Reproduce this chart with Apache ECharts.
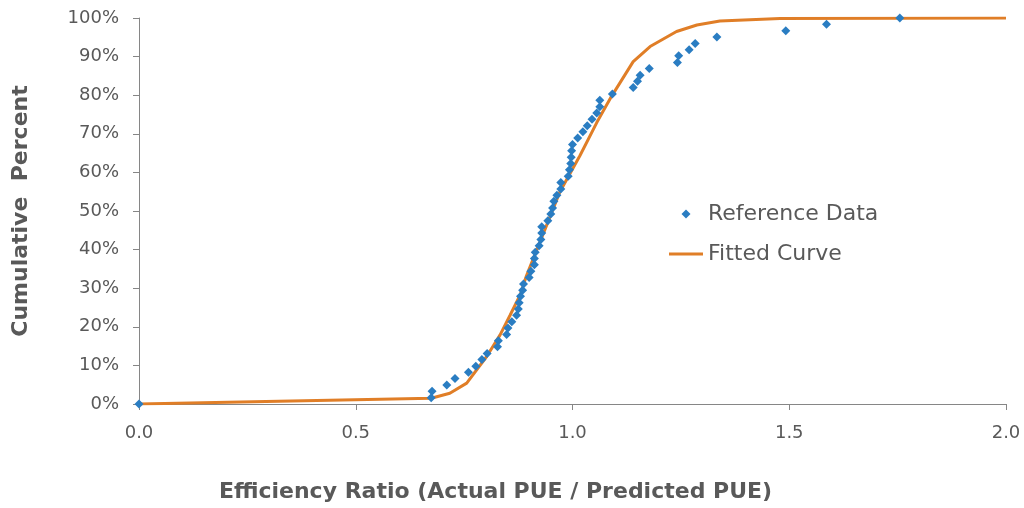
<!DOCTYPE html>
<html>
<head>
<meta charset="utf-8">
<script src="https://cdn.jsdelivr.net/npm/echarts@6/dist/echarts.min.js"></script>
<style>html,body{margin:0;padding:0;background:#fff;}#c{width:1024px;height:508px;}</style>
</head>
<body>
<div id="c"></div>
<script>
// Reference data: efficiency ratio (x) and cumulative percent (y)
var refX = [0.000, 0.674, 0.676, 0.710, 0.729, 0.760, 0.777, 0.791, 0.803, 0.827, 0.829,
  0.848, 0.851, 0.860, 0.871, 0.875, 0.877, 0.880, 0.885, 0.887, 0.900,
  0.904, 0.912, 0.912, 0.914, 0.923, 0.927, 0.929, 0.929, 0.943, 0.950,
  0.954, 0.957, 0.964, 0.973, 0.973, 0.990, 0.993, 0.996, 0.997, 0.998,
  1.000, 1.012, 1.024, 1.034, 1.045, 1.056, 1.063, 1.063, 1.092, 1.140,
  1.150, 1.156, 1.177, 1.242, 1.245, 1.269, 1.283, 1.333, 1.492, 1.586, 1.755];
var refY = [0.0, 1.6, 3.3, 4.9, 6.6, 8.2, 9.8, 11.5, 13.1, 14.8, 16.4,
  18.0, 19.7, 21.3, 23.0, 24.6, 26.2, 27.9, 29.5, 31.1, 32.8,
  34.4, 36.1, 37.7, 39.3, 41.0, 42.6, 44.3, 45.9, 47.5, 49.2,
  50.8, 52.5, 54.1, 55.7, 57.4, 59.0, 60.7, 62.3, 63.9, 65.6,
  67.2, 68.9, 70.5, 72.1, 73.8, 75.4, 77.0, 78.7, 80.3, 82.0,
  83.6, 85.2, 86.9, 88.5, 90.2, 91.8, 93.4, 95.1, 96.7, 98.4, 100.0];
// Fitted curve
var fitX = [0, 0.674, 0.717, 0.756, 0.802, 0.833, 0.856, 0.879, 0.894, 0.940, 0.971,
  1.017, 1.056, 1.090, 1.140, 1.179, 1.240, 1.287, 1.340, 1.479, 2.0];
var fitY = [0, 1.5, 2.8, 5.4, 12.3, 17.9, 23.0, 28.2, 33.3, 46.2, 55.0,
  64.3, 72.9, 79.7, 88.7, 92.6, 96.5, 98.2, 99.2, 99.9, 100];
var xTicks = ['0.0', '0.5', '1.0', '1.5', '2.0'];

function zip(a, b) { var r = []; for (var i = 0; i < a.length; i++) r.push([a[i], b[i]]); return r; }

var FONT = 'DejaVu Sans, Verdana, sans-serif';
var textColor = '#595959';
var axisColor = '#868686';
var chart = echarts.init(document.getElementById('c'));
chart.setOption({
  animation: false,
  backgroundColor: '#ffffff',
  textStyle: { fontFamily: FONT },
  grid: { left: 139, right: 18, top: 18, bottom: 102, containLabel: false },
  legend: {
    orient: 'vertical', left: 664, top: 198,
    itemWidth: 34, itemHeight: 9, itemGap: 18, symbolKeepAspect: true,
    textStyle: { fontSize: 22, lineHeight: 22, color: textColor, fontFamily: FONT },
    data: [
      { name: 'Reference Data', icon: 'path://M0,-1L1,0L0,1L-1,0Z' },
      { name: 'Fitted Curve', icon: 'path://M0,0H34V3H0Z' }
    ]
  },
  xAxis: {
    type: 'value', min: 0, max: 2, interval: 0.5,
    name: 'Efficiency Ratio (Actual PUE / Predicted PUE)',
    nameLocation: 'middle', nameGap: 77,
    nameTextStyle: { fontSize: 22, fontWeight: 'bold', color: textColor, fontFamily: FONT, padding: [0, 154, 0, 0] },
    axisLine: { lineStyle: { color: axisColor, width: 1 } },
    axisTick: { show: true, length: 6, lineStyle: { color: axisColor } },
    axisLabel: { fontSize: 18, color: textColor, margin: 20, fontFamily: FONT,
      formatter: function (v) { return xTicks[Math.round(v / 0.5)]; } },
    splitLine: { show: false }
  },
  yAxis: {
    type: 'value', min: 0, max: 100, interval: 10,
    name: 'Cumulative  Percent',
    nameLocation: 'middle', nameGap: 107, nameRotate: 90,
    nameTextStyle: { fontSize: 22, fontWeight: 'bold', color: textColor, fontFamily: FONT },
    axisLine: { show: true, lineStyle: { color: axisColor, width: 1 } },
    axisTick: { show: true, length: 6, lineStyle: { color: axisColor } },
    axisLabel: { fontSize: 18, color: textColor, margin: 20, fontFamily: FONT, formatter: '{value}%' },
    splitLine: { show: false }
  },
  series: [
    {
      name: 'Fitted Curve', type: 'line', data: zip(fitX, fitY),
      symbol: 'none', smooth: false,
      lineStyle: { color: '#e07e27', width: 3 },
      itemStyle: { color: '#e07e27' }, z: 2
    },
    {
      name: 'Reference Data', type: 'scatter', data: zip(refX, refY),
      symbol: 'diamond', symbolSize: 9,
      itemStyle: { color: '#2a7dc2', opacity: 1 }, z: 3
    }
  ]
});
</script>
</body>
</html>
